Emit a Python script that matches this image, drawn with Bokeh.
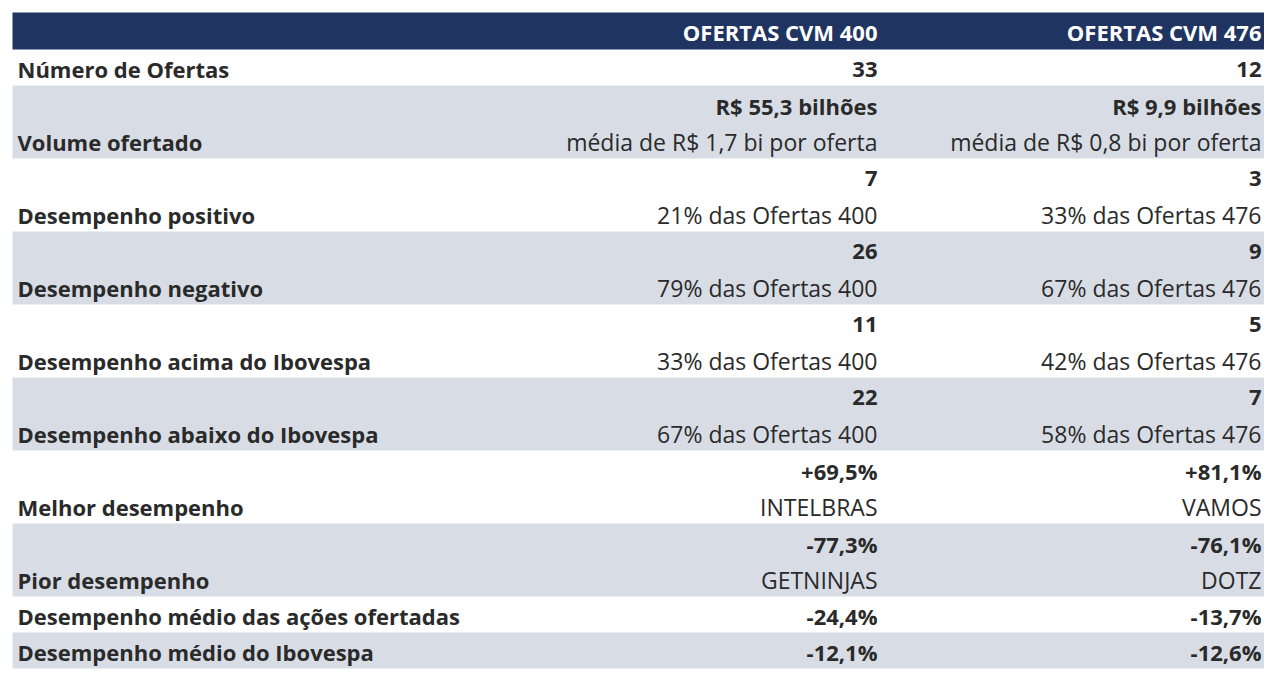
from bokeh.plotting import figure
from bokeh.models import Range1d, ColumnDataSource
from bokeh.core.properties import value
from bokeh.embed import file_html
from bokeh.resources import INLINE

# ---- data ----
headers = ["OFERTAS CVM 400", "OFERTAS CVM 476"]
labels = ["Número de Ofertas", "Volume ofertado", "Desempenho positivo",
          "Desempenho negativo", "Desempenho acima do Ibovespa",
          "Desempenho abaixo do Ibovespa", "Melhor desempenho", "Pior desempenho",
          "Desempenho médio das ações ofertadas", "Desempenho médio do Ibovespa"]
cvm400_main = ["33", "R$ 55,3 bilhões", "7", "26", "11", "22", "+69,5%", "-77,3%", "-24,4%", "-12,1%"]
cvm400_sub = ["", "média de R$ 1,7 bi por oferta", "21% das Ofertas 400", "79% das Ofertas 400",
              "33% das Ofertas 400", "67% das Ofertas 400", "INTELBRAS", "GETNINJAS", "", ""]
cvm476_main = ["12", "R$ 9,9 bilhões", "3", "9", "5", "7", "+81,1%", "-76,1%", "-13,7%", "-12,6%"]
cvm476_sub = ["", "média de R$ 0,8 bi por oferta", "33% das Ofertas 476", "67% das Ofertas 476",
              "42% das Ofertas 476", "58% das Ofertas 476", "VAMOS", "DOTZ", "", ""]

# ---- layout ----
W, H = 1264, 672
FONT = "Open Sans"
FS_B = "22px"
FS_R = "23px"
TXT = "#2a2a2a"
NAVY = "#1f3461"
GRAY = "#d8dde5"

p = figure(width=W, height=H, output_backend="svg", toolbar_location=None,
           x_range=Range1d(0, W), y_range=Range1d(H, 0),
           min_border=0, outline_line_color=None)
p.axis.visible = False
p.grid.visible = False
p.background_fill_color = "white"
p.border_fill_color = "white"

left, right = 12, 1264
col1_x, col2_x = 877, 1261
label_x = 17
top = 12
header_h = 37
single_h, double_h = 36, 73

# header band
p.quad(left=[left], right=[right], top=[top], bottom=[top + header_h],
       fill_color=NAVY, line_color=None)
p.text(x=[col1_x, col2_x], y=[top + header_h / 2 + 1] * 2, text=headers,
       text_align="right", text_baseline="middle", text_color="white",
       text_font=value(FONT), text_font_style="bold", text_font_size=FS_B)

# rows
y = top + header_h
band = dict(left=[], right=[], top=[], bottom=[])
lab_src = dict(x=[], y=[], text=[])
val_src = dict(x=[], y=[], text=[])
reg = dict(x=[], y=[], text=[])
for i, lab in enumerate(labels):
    h = double_h if (cvm400_sub[i] or cvm476_sub[i]) else single_h
    b = y + h
    if i % 2 == 1:
        band["left"].append(left); band["right"].append(right)
        band["top"].append(y); band["bottom"].append(b)
    low = b - 16.5
    lab_src["x"].append(label_x); lab_src["y"].append(low); lab_src["text"].append(lab)
    for cx, m, s in ((col1_x, cvm400_main[i], cvm400_sub[i]), (col2_x, cvm476_main[i], cvm476_sub[i])):
        if s:
            reg["x"].append(cx); reg["y"].append(low); reg["text"].append(s)
            val_src["x"].append(cx); val_src["y"].append(b - 53); val_src["text"].append(m)
        else:
            val_src["x"].append(cx); val_src["y"].append(low); val_src["text"].append(m)
    y = b

p.quad(source=ColumnDataSource(band), left="left", right="right", top="top", bottom="bottom",
       fill_color=GRAY, line_color=None)

p.text(source=ColumnDataSource(lab_src), x="x", y="y", text="text", text_align="left",
       text_baseline="middle", text_color=TXT, text_font=value(FONT),
       text_font_style="bold", text_font_size=FS_B)
p.text(source=ColumnDataSource(val_src), x="x", y="y", text="text", text_align="right",
       text_baseline="middle", text_color=TXT, text_font=value(FONT),
       text_font_style="bold", text_font_size=FS_B)
p.text(source=ColumnDataSource(reg), x="x", y="y", text="text", text_align="right",
       text_baseline="middle", text_color=TXT, text_font=value(FONT),
       text_font_size=FS_R)

open("out.html", "w").write(file_html(p, INLINE))
